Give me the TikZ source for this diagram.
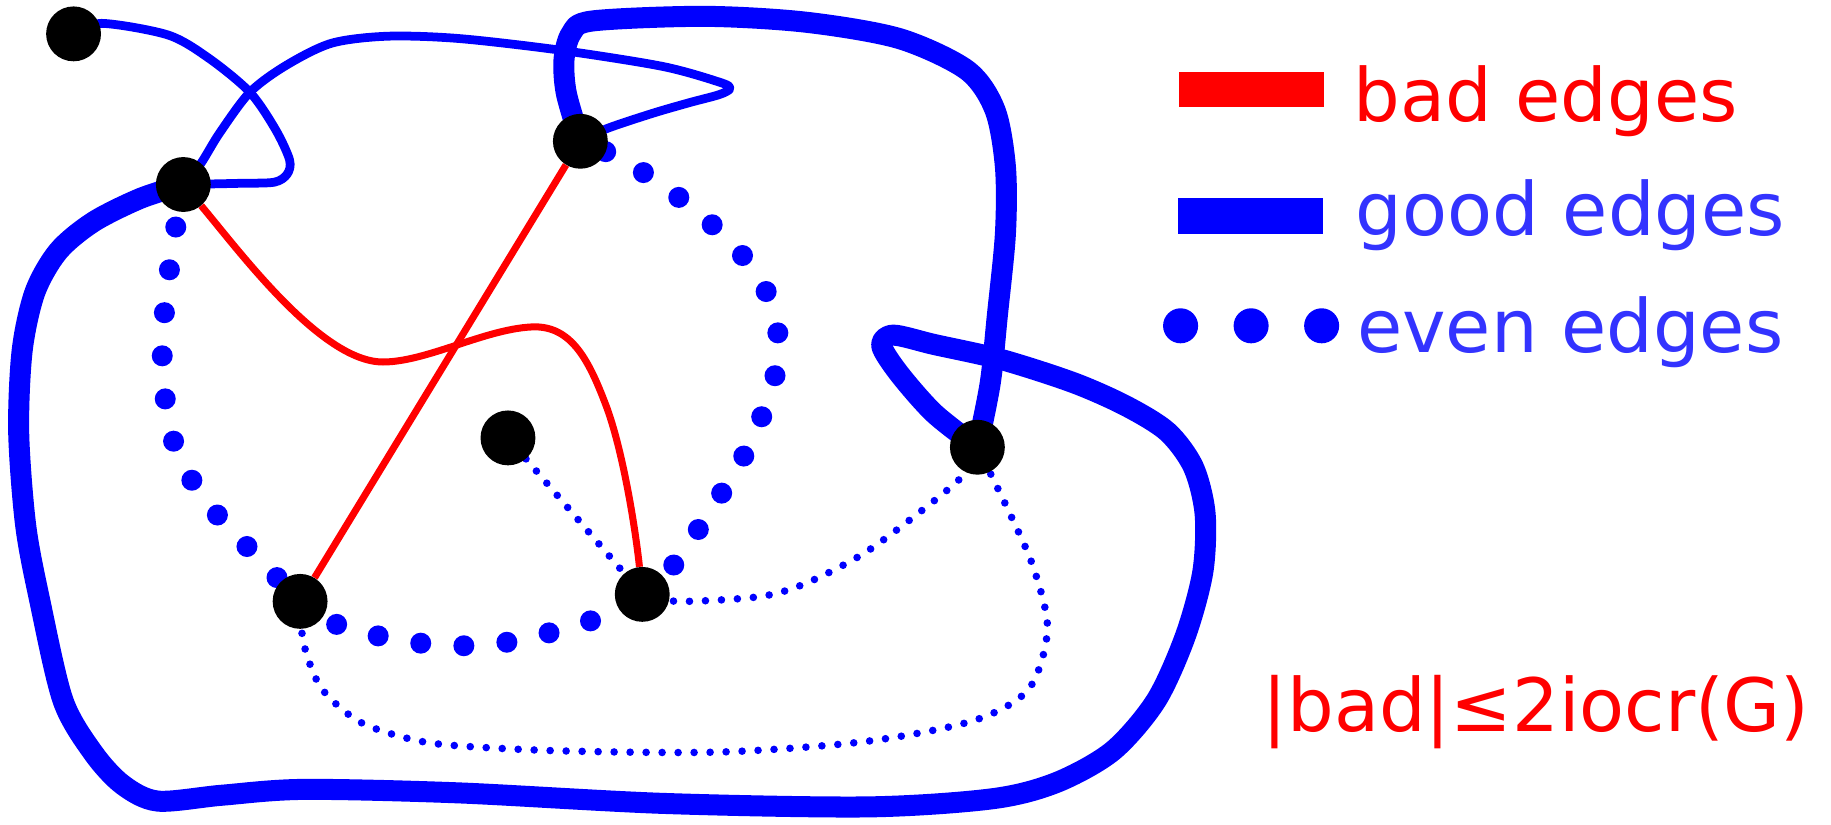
\documentclass[tikz,border=0pt]{standalone}
\usepackage{fontspec}
\newfontfamily\legfont{DejaVu Sans}
\usetikzlibrary{positioning, backgrounds}
\definecolor{goodblue}{RGB}{51,51,255}

\begin{document}
\begin{tikzpicture}[
    x=1pt, y=-1pt,
    vertex/.style={circle, fill=black, minimum size=47pt, inner sep=0pt},
    bad/.style={draw=red, line width=6pt, line join=round},
    goodthin/.style={draw=blue, line width=7.5pt, line join=round},
    goodthick/.style={draw=blue, line width=18pt, line cap=round, line join=round},
    even/.style={draw=blue, line width=18pt, line cap=round, dash pattern=on 0pt off 37pt},
    evenfine/.style={draw=blue, line width=6.5pt, line cap=round, dash pattern=on 0pt off 13.7pt},
    legbar/.style={fill=#1, minimum width=124pt, minimum height=30pt, inner sep=0pt},
    legdot/.style={circle, fill=blue, minimum size=30pt, inner sep=0pt},
    legtext/.style={font=\legfont\fontsize{63}{75}\selectfont, inner sep=0pt, anchor=base west}
]
\useasboundingbox (0,0) rectangle (1568,706);

% Vertices
\node[vertex] (A) at (63,29) {};
\node[vertex] (B) at (157,158) {};
\node[vertex] (C) at (497,121) {};
\node[vertex] (D) at (435,375) {};
\node[vertex] (E) at (257,515) {};
\node[vertex] (F) at (550,509) {};
\node[vertex] (G) at (837,383) {};

\begin{scope}[on background layer]
% Good edges
\draw[goodthin] plot[smooth] coordinates {(A.center) (87,20) (144,30) (179,50) (214,79)
    (236,111) (248,137) (246,149) (235,156) (205,157) (B.center)};
\draw[goodthin] plot[smooth] coordinates {(B.center) (172,140) (188,114) (214,79) (245,56)
    (284,37) (332,31) (393,33) (480,43) (568,57) (618,71) (625,76) (616,81) (590,88)
    (559,97) (520,110) (C.center)};
\draw[goodthick] plot[smooth] coordinates {(C.center) (485,80) (483,51) (489,29) (507,18)
    (603,14) (690,19) (770,33) (828,60) (852,94) (861,143) (861,200) (854,271) (848,328)
    (G.center)};
\draw[goodthick] plot[smooth] coordinates {(B.center) (120,170) (80,190) (50,215) (30,250)
    (19,300) (16,370) (22,450) (34,514) (54,600) (80,645) (105,672) (135,686) (190,681)
    (260,676) (393,679) (568,688) (743,691) (850,684) (905,670) (953,643) (990,600)
    (1015,545) (1030,490) (1032,440) (1022,400) (1000,370) (965,348) (920,328) (858,308)
    (800,295) (765,287) (755,296) (770,320) (800,354) (G.center)};

% Bad edges
\draw[bad] (C) -- (E);
\draw[bad] (B) .. controls (205,215) and (275,310) .. (328,310)
    .. controls (365,310) and (415,282) .. (455,280)
    .. controls (490,278) and (505,310) .. (520,350)
    .. controls (535,392) and (545,460) .. (F);

% Even edges
\draw[even] plot[smooth] coordinates {(B.center) (152,185) (142,255) (139,310) (145,365)
    (158,400) (177,430) (201,457) (E.center)};
\draw[even] plot[smooth] coordinates {(E.center) (291,536) (326,545) (362,551) (398,553)
    (434,550) (470,542) (505,532) (F.center)};
\draw[even] plot[smooth] coordinates {(F.center) (572,490) (593,461) (613,430) (632,400)
    (648,367) (661,333) (667,297) (661,261) (644,229) (620,202) (593,178) (563,156)
    (532,136) (C.center)};
\draw[evenfine] (D) -- (F);
\draw[evenfine] plot[smooth] coordinates {(F.center) (581,515) (650,511) (689,500) (738,475)
    (782,443) (824,408) (G.center)};
\draw[evenfine] plot[smooth] coordinates {(E.center) (260,551) (275,589) (306,617) (344,631)
    (384,638) (480,643) (617,644) (741,635) (834,617) (881,590) (897,539) (885,486)
    (863,436) (G.center)};
\end{scope}

% Legend
\node[legbar=red] (badbar) at (1072,77) {};
\node[legbar=blue, minimum height=31pt] (goodbar) at (1071,185) {};
\node[legdot] (dotA) at (1011,279) {};
\node[legdot, right=30pt of dotA] (dotB) {};
\node[legdot, right=30pt of dotB] (dotC) {};
\node[legtext, text=red] (badtxt) at (1159,104) {bad edges};
\node[legtext, text=goodblue] (goodtxt) at (1161,202) {good edges};
\node[legtext, text=goodblue] (eventxt) at (1162,302) {even edges};
\node[legtext, text=red] (bound) at (1081,626) {|bad|≤2iocr(G)};

\end{tikzpicture}
\end{document}
